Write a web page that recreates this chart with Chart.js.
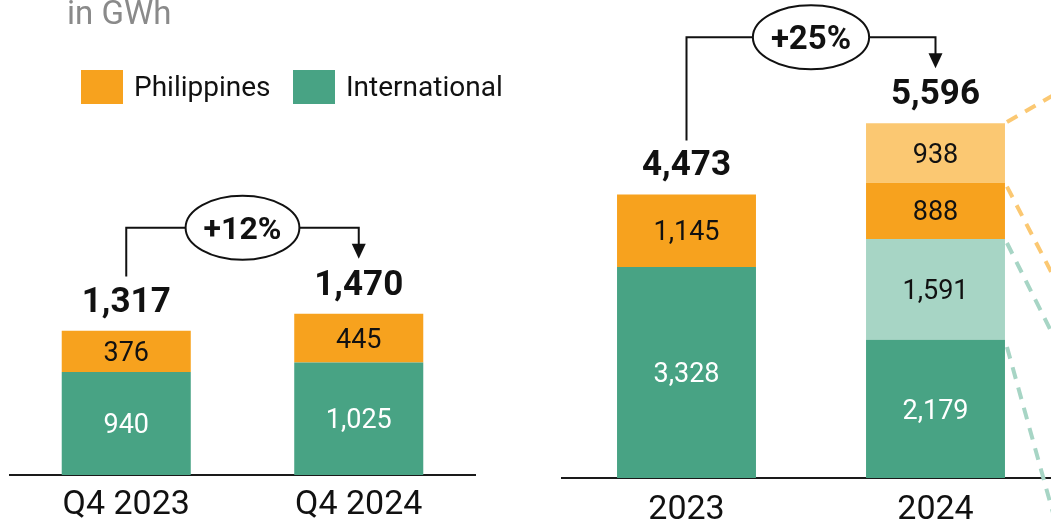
<!DOCTYPE html>
<html>
<head>
<meta charset="utf-8">
<script src="https://cdn.jsdelivr.net/npm/chart.js@4"></script>
<style>
  html, body { margin: 0; padding: 0; background: #fff; overflow: hidden; width: 1051px; height: 527px; }
  #wrapL { position: absolute; left: 0; top: 0; width: 552px; height: 527px; }
  #wrapR { position: absolute; left: 552px; top: 0; width: 510px; height: 527px; }
</style>
</head>
<body>
<div id="wrapL"><canvas id="left"></canvas></div>
<div id="wrapR"><canvas id="right"></canvas></div>
<script>
// ---- data ----
const unitLabel = 'in GWh';
const quarterLabels = ['Q4 2023', 'Q4 2024'];
const quarterInternational = [940, 1025];
const quarterPhilippines = [376, 445];
const quarterTotals = [1317, 1470];
const quarterGrowth = '+12%';

const yearLabels = ['2023', '2024'];
const yearInternational = [3328, 2179];
const yearInternationalAdded = [null, 1591];
const yearPhilippines = [1145, 888];
const yearPhilippinesAdded = [null, 938];
const yearTotals = [4473, 5596];
const yearGrowth = '+25%';

// ---- styles ----
const GREEN = '#48a384', GREEN_LT = '#a7d5c5', ORANGE = '#f7a21e', ORANGE_LT = '#fbc872';
const FONT = 'Roboto';
const fmt = v => v.toLocaleString('en-US');

const annotate = {
  id: 'annotate',
  afterDatasetsDraw(chart, args, o) {
    const ctx = chart.ctx;
    const ds = chart.data.datasets;
    const xs = chart.scales.x, ys = chart.scales.y;
    ctx.save();
    // segment values
    ds.forEach((d, di) => {
      const meta = chart.getDatasetMeta(di);
      meta.data.forEach((bar, i) => {
        const v = d.data[i];
        if (v == null) return;
        const p = bar.getProps(['x', 'y', 'base'], true);
        ctx.font = `400 ${o.segFont}px ${FONT}`;
        ctx.fillStyle = d.labelColor;
        ctx.textAlign = 'center';
        ctx.textBaseline = 'alphabetic';
        ctx.fillText(fmt(v), p.x, (p.y + p.base) / 2 + 0.355 * o.segFont);
      });
    });
    // totals
    const tops = o.totals.map(t => ys.getPixelForValue(t));
    ctx.font = `700 ${o.totFont}px ${FONT}`;
    ctx.fillStyle = '#111';
    o.totals.forEach((t, i) => {
      ctx.fillText(fmt(t), xs.getPixelForValue(i), tops[i] - 19);
    });
    // growth bracket
    const x0 = xs.getPixelForValue(0), x1 = xs.getPixelForValue(1);
    const hy = tops[1] - 86;
    const cx = (x0 + x1) / 2;
    ctx.font = `700 ${o.pctFont}px ${FONT}`;
    const tw = ctx.measureText(o.growth).width;
    const rx = tw / 2 + 18, ry = 32;
    ctx.strokeStyle = '#111';
    ctx.lineWidth = 2;
    ctx.beginPath();
    ctx.moveTo(x0, tops[0] - 54); ctx.lineTo(x0, hy); ctx.lineTo(cx - rx, hy);
    ctx.stroke();
    const tip = tops[1] - 55;
    ctx.beginPath();
    ctx.moveTo(cx + rx, hy); ctx.lineTo(x1, hy); ctx.lineTo(x1, tip - 12);
    ctx.stroke();
    ctx.beginPath();
    ctx.moveTo(x1 - 7, tip - 15); ctx.lineTo(x1 + 7, tip - 15); ctx.lineTo(x1, tip);
    ctx.closePath();
    ctx.fillStyle = '#111';
    ctx.fill();
    ctx.beginPath();
    ctx.ellipse(cx, hy, rx, ry, 0, 0, Math.PI * 2);
    ctx.fillStyle = '#fff';
    ctx.fill();
    ctx.stroke();
    ctx.fillStyle = '#111';
    ctx.fillText(o.growth, cx, hy + 0.355 * o.pctFont);
    // dashed connectors
    (o.connectors || []).forEach(c => {
      const bar = chart.getDatasetMeta(c.dataset).data[c.index];
      const p = bar.getProps(['x', 'y', 'base', 'width'], true);
      const sx = p.x + p.width / 2;
      const sy = c.edge === 'top' ? p.y : p.base;
      ctx.save();
      ctx.setLineDash([12, 9]);
      ctx.lineWidth = 4;
      ctx.strokeStyle = c.color;
      ctx.beginPath();
      ctx.moveTo(sx + 2, sy + 2 * c.slope);
      ctx.lineTo(sx + 80, sy + 80 * c.slope);
      ctx.stroke();
      ctx.restore();
    });
    // header + legend
    if (o.header) {
      ctx.textAlign = 'left';
      ctx.font = `400 33px ${FONT}`;
      ctx.fillStyle = '#8a8a8a';
      ctx.fillText(unitLabel, 67, 24);
      const items = [ds[1], ds[0]];
      const pos = [81, 293];
      ctx.font = `400 28px ${FONT}`;
      items.forEach((d, k) => {
        ctx.fillStyle = d.backgroundColor;
        ctx.fillRect(pos[k], 70, 42, 34);
        ctx.fillStyle = '#111';
        ctx.fillText(d.label, pos[k] + 53, 96);
      });
    }
    ctx.restore();
  }
};

function makeChart(id, labels, datasets, yMax, axisH, tickPad, barPct, padL, padR, pluginOpts) {
  return new Chart(document.getElementById(id), {
    type: 'bar',
    data: { labels, datasets },
    options: {
      responsive: true,
      maintainAspectRatio: false,
      animation: false,
      events: [],
      layout: { padding: { left: padL, right: padR, top: 0, bottom: 0 } },
      datasets: { bar: { barPercentage: barPct, categoryPercentage: 1, borderWidth: 0 } },
      plugins: { legend: { display: false }, tooltip: { enabled: false }, annotate: pluginOpts },
      scales: {
        x: {
          stacked: true,
          grid: { display: false, drawTicks: false },
          border: { display: true, color: '#1a1a1a', width: 2 },
          ticks: { color: '#111', font: { family: FONT, size: 34 }, padding: tickPad },
          afterFit: s => { s.height = axisH; }
        },
        y: { stacked: true, display: false, min: 0, max: yMax }
      }
    },
    plugins: [annotate]
  });
}

makeChart('left', quarterLabels, [
  { label: 'International', data: quarterInternational, backgroundColor: GREEN, labelColor: '#fff' },
  { label: 'Philippines', data: quarterPhilippines, backgroundColor: ORANGE, labelColor: '#111' }
], 4330, 52, 10, 0.555, 10, 77,
{ totals: quarterTotals, growth: quarterGrowth, segFont: 27, totFont: 35, pctFont: 32, header: true });

makeChart('right', yearLabels, [
  { label: 'International', data: yearInternational, backgroundColor: GREEN, labelColor: '#fff' },
  { label: 'International (added)', data: yearInternationalAdded, backgroundColor: GREEN_LT, labelColor: '#111' },
  { label: 'Philippines', data: yearPhilippines, backgroundColor: ORANGE, labelColor: '#111' },
  { label: 'Philippines (added)', data: yearPhilippinesAdded, backgroundColor: ORANGE_LT, labelColor: '#111' }
], 7540, 49, 12, 0.558, 10, 2,
{ totals: yearTotals, growth: yearGrowth, segFont: 27, totFont: 35, pctFont: 33, header: false,
  connectors: [
    { dataset: 3, index: 1, edge: 'top', slope: -0.58, color: ORANGE_LT },
    { dataset: 3, index: 1, edge: 'base', slope: 1.93, color: ORANGE_LT },
    { dataset: 1, index: 1, edge: 'top', slope: 2.0, color: GREEN_LT },
    { dataset: 1, index: 1, edge: 'base', slope: 3.6, color: GREEN_LT }
  ] });
</script>
</body>
</html>
